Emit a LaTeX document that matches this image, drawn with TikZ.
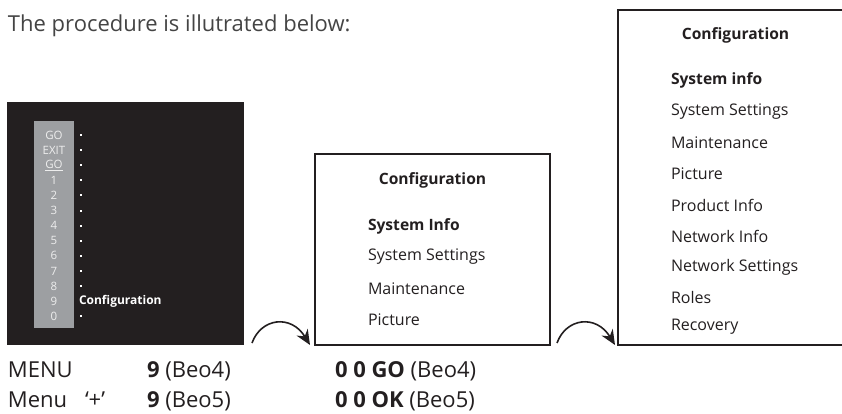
\documentclass[tikz,border=0pt]{standalone}
\usepackage{fontspec}
\setmainfont{Open Sans}
\usetikzlibrary{arrows.meta}
\definecolor{ink}{HTML}{231F20}
\definecolor{strip}{HTML}{9D9FA2}
\definecolor{hdr}{HTML}{444444}
\definecolor{lbl}{HTML}{EDEDED}
\tikzset{
  base/.style={inner sep=0pt, outer sep=0pt},
  menubox/.style={base, draw=ink, line width=1.3pt, anchor=north west},
  menutitle/.style={base, text=ink, font=\fontsize{15.6}{18}\selectfont\bfseries},
  item/.style={base, anchor=west, text=ink, font=\fontsize{16}{19}\selectfont},
  itemb/.style={item, font=\fontsize{15.6}{19}\selectfont\bfseries},
  keylbl/.style={base, text=lbl, font=\fontsize{11.5}{13}\selectfont},
  tvdot/.style={fill=white, minimum size=2pt, inner sep=0pt},
  bottom/.style={base, anchor=base west, text=ink, font=\fontsize{22}{26}\selectfont},
  turnarrow/.style={draw=ink, line width=1.6pt, -{Stealth[length=15pt,width=13pt]}}
}
\begin{document}
\begin{tikzpicture}[x=1pt,y=-1pt]
\useasboundingbox (0,0) rectangle (842,414);
\clip (0,0) rectangle (842,414);
% header
\node[base, anchor=base west, text=hdr, font=\fontsize{22}{26}\selectfont] (head) at (8,31.5) {The procedure is illutrated below:};
% TV screen
\node[base, fill=ink, minimum width=237pt, minimum height=243pt, anchor=north west] (tv) at (7,102) {};
\node[base, fill=strip, minimum width=40pt, minimum height=207pt, anchor=north west] (strip) at (34,121) {};
\foreach \t [count=\i] in {GO,EXIT,{\underline{GO}},1,2,3,4,5,6,7,8,9,0} {
  \node[keylbl] (k\i) at (54,{135+15.1*(\i-1)}) {\t};
}
\foreach \i in {1,...,11,13} {
  \node[tvdot] (d\i) at (80.5,{135+15.1*(\i-1)}) {};
}
\node[base, anchor=west, text=white, font=\fontsize{12}{14}\selectfont\bfseries] (tvconf) at (79,301.2) {Configuration};
% middle menu
\node[menubox, minimum width=235pt, minimum height=191pt] (mid) at (315,154) {};
\node[menutitle] (midt) at (432.5,180) {Configuration};
\node[itemb] (m1) at (368,226) {System Info};
\node[item] (m2) at (368,257) {System Settings};
\node[item] (m3) at (368,288.5) {Maintenance};
\node[item] (m4) at (368,320) {Picture};
% right menu
\node[menubox, minimum width=235pt, minimum height=335pt] (right) at (618,10) {};
\node[menutitle] (rt) at (735.5,35) {Configuration};
\node[itemb] (r1) at (671,80) {System info};
\node[item] (r2) at (671,112) {System Settings};
\node[item] (r3) at (671,143) {Maintenance};
\node[item] (r4) at (671,174) {Picture};
\node[item] (r5) at (671,205) {Product Info};
\node[item] (r6) at (671,236) {Network Info};
\node[item] (r7) at (671,267) {Network Settings};
\node[item] (r8) at (671,297) {Roles};
\node[item] (r9) at (671,327) {Recovery};
% arrows
\coordinate (a1s) at (252,343);
\coordinate (a1e) at (310,345);
\coordinate (a2s) at (557,343);
\coordinate (a2e) at (615,345);
\draw[turnarrow] (a1s) .. controls (261,318) and (291,314) .. (a1e);
\draw[turnarrow] (a2s) .. controls (566,318) and (596,314) .. (a2e);
% bottom text
\node[bottom] (b1) at (8,377) {MENU};
\node[bottom] (b2) at (147,377) {\bfseries 9 \mdseries(Beo4)};
\node[bottom] (b3) at (335,377) {\bfseries 0 0 GO \mdseries(Beo4)};
\node[bottom] (b4) at (8,407) {Menu};
\node[bottom] (b5) at (85,407) {‘+’};
\node[bottom] (b6) at (147,407) {\bfseries 9 \mdseries(Beo5)};
\node[bottom] (b7) at (335,407) {\bfseries 0 0 OK \mdseries(Beo5)};
\end{tikzpicture}
\end{document}
